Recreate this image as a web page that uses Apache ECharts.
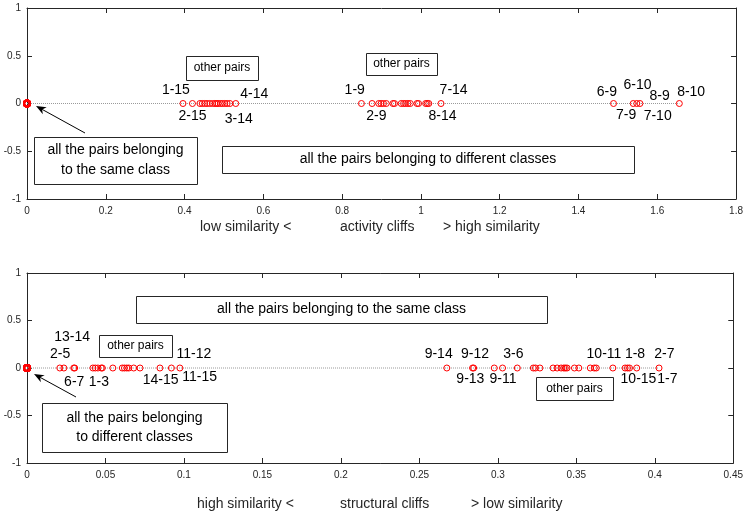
<!DOCTYPE html>
<html><head><meta charset="utf-8">
<script src="https://cdn.jsdelivr.net/npm/echarts@6/dist/echarts.min.js"></script>
<style>html,body{margin:0;padding:0;background:#fff}#c{width:746px;height:514px}</style>
</head><body><div id="c"></div>
<script>
// ---- data ----
const activityZeros = [0,0,0,0,0,0,0,0];
const activityX = [0.396,0.420,0.439,0.445,0.451,0.457,0.464,0.471,0.477,0.481,0.485,0.491,0.496,0.502,0.508,0.515,0.530,
  0.849,0.876,0.893,0.899,0.905,0.912,0.929,0.933,0.950,0.956,0.961,0.967,0.973,0.990,0.994,1.012,1.016,1.020,1.051,
  1.489,1.539,1.548,1.556,1.656];
const activityLabelNames = ['1-15','2-15','3-14','4-14','1-9','7-14','2-9','8-14','6-9','6-10','8-9','8-10','7-9','7-10'];
const activityLabelX = [0.378,0.420,0.5375,0.577,0.832,1.083,0.887,1.055,1.472,1.550,1.606,1.686,1.521,1.601];
const activityLabelY = [0.141,-0.131,-0.162,0.094,0.141,0.141,-0.131,-0.131,0.115,0.188,0.073,0.115,-0.120,-0.131];

const structuralZeros = [0,0,0,0,0,0,0,0];
const structuralX = [0.0209,0.0235,0.0298,0.0304,0.0420,0.0435,0.0452,0.0473,0.0480,0.0547,0.0607,0.0621,0.0636,0.0649,0.0680,0.0720,0.0847,0.0920,0.0974,
  0.2675,0.2839,0.2846,0.2977,0.3030,0.3124,0.3226,0.3240,0.3268,0.3352,0.3378,0.3403,0.3420,0.3430,0.3441,0.3488,0.3516,0.3589,0.3614,0.3627,0.3733,0.3811,0.3826,0.3839,0.3885,0.4027];
const structuralLabelNames = ['13-14','2-5','6-7','1-3','14-15','11-12','11-15','9-14','9-12','3-6','10-11','1-8','2-7','9-13','9-11','10-15','1-7'];
const structuralLabelX = [0.0288,0.0211,0.0301,0.0458,0.0851,0.1063,0.1100,0.2623,0.2855,0.3099,0.3676,0.3874,0.4061,0.2825,0.3033,0.3896,0.4080];
const structuralLabelY = [0.321,0.147,-0.153,-0.153,-0.126,0.142,-0.100,0.147,0.147,0.147,0.147,0.147,0.147,-0.116,-0.116,-0.116,-0.116];

const yTickInterval = 0.5;
const topXMax = 1.8, topXInterval = 0.2;
const botXMax = 0.45, botXInterval = 0.05;

// ---- chart ----
const AX = '#262626';
const chart = echarts.init(document.getElementById('c'), null, {renderer: 'canvas'});
const fontFam = 'Arial, "Liberation Sans", sans-serif';

function xAx(grid, max, interval, pos, showLabel) {
  return {type:'value', gridIndex:grid, min:0, max:max, interval:interval, position:pos,
    axisLine:{show:true, onZero:false, lineStyle:{color:AX, width:1}},
    axisTick:{show:true, inside:true, length:5, lineStyle:{color:AX}},
    axisLabel:{show:showLabel, color:AX, fontSize:10, fontFamily:fontFam, margin:7},
    splitLine:{show:false}};
}
function yAx(grid, pos, showLabel) {
  return {type:'value', gridIndex:grid, min:-1, max:1, interval:yTickInterval, position:pos,
    axisLine:{show:true, onZero:false, lineStyle:{color:AX, width:1}},
    axisTick:{show:true, inside:true, length:5, lineStyle:{color:AX}},
    axisLabel:{show:showLabel, color:AX, fontSize:10, fontFamily:fontFam, margin:6},
    splitLine:{show:false}};
}
function pointSeries(xi, yi, xs) {
  return {type:'line', xAxisIndex:xi, yAxisIndex:yi,
    data: xs.map(v => v === 0 ? {value:[v, 0], itemStyle:{borderWidth:2}} : [v, 0]),
    symbol:'circle', symbolSize:6, showAllSymbol:true, silent:true,
    itemStyle:{color:'rgba(255,255,255,0)', borderColor:'#ff0000', borderWidth:1},
    lineStyle:{color:'#9a9a9a', type:'dotted', width:1}, z:3};
}
function labelSeries(xi, yi, names, xs, ys) {
  return {type:'scatter', xAxisIndex:xi, yAxisIndex:yi, symbolSize:1, silent:true,
    itemStyle:{color:'rgba(0,0,0,0)'},
    data: names.map((n,i) => ({name:n, value:[xs[i], ys[i]]})),
    label:{show:true, position:'inside', formatter:'{b}', color:'#000', opacity:1, fontSize:14, fontFamily:fontFam}, z:4};
}
function box(x, y, w, h, text, size, lh) {
  return {type:'group', children:[
    {type:'rect', shape:{x:x+0.5, y:y+0.5, width:w, height:h}, style:{fill:'#fff', stroke:AX, lineWidth:1}, z:10},
    {type:'text', x:x + w/2, y:y + h/2, style:{text:text, font: size + 'px ' + fontFam, fill:'#000',
      align:'center', verticalAlign:'middle', lineHeight:lh || size*1.2}, z:11}
  ]};
}
function arrow(x1, y1, x2, y2) {
  const dx = x2-x1, dy = y2-y1, L = Math.hypot(dx, dy), ux = dx/L, uy = dy/L, nx = -uy, ny = ux;
  const len = 10, hw = 4, back = 7;
  return {type:'group', children:[
    {type:'line', shape:{x1:x1, y1:y1, x2:x2-ux*back, y2:y2-uy*back}, style:{stroke:'#000', lineWidth:1}, z:10},
    {type:'polygon', shape:{points:[[x2,y2],[x2-ux*len+nx*hw, y2-uy*len+ny*hw],[x2-ux*back, y2-uy*back],[x2-ux*len-nx*hw, y2-uy*len-ny*hw]]},
      style:{fill:'#000'}, z:10}
  ]};
}
function axName(x, y, t) {
  return {type:'text', x:x, y:y, style:{text:t, font:'14px ' + fontFam, fill:'#262626', align:'left', verticalAlign:'middle'}};
}

const option = {
  animation:false,
  backgroundColor:'#fff',
  grid:[
    {left:27, top:8, width:710, height:191},
    {left:27, top:273, width:710, height:190}
  ],
  xAxis:[
    xAx(0, topXMax, topXInterval, 'bottom', true),
    xAx(0, topXMax, topXInterval, 'top', false),
    xAx(1, botXMax, botXInterval, 'bottom', true),
    xAx(1, botXMax, botXInterval, 'top', false)
  ],
  yAxis:[
    yAx(0, 'left', true),
    yAx(0, 'right', false),
    yAx(1, 'left', true),
    yAx(1, 'right', false)
  ],
  series:[
    pointSeries(0, 0, activityZeros.concat(activityX)),
    labelSeries(0, 0, activityLabelNames, activityLabelX, activityLabelY),
    pointSeries(2, 2, structuralZeros.concat(structuralX)),
    labelSeries(2, 2, structuralLabelNames, structuralLabelX, structuralLabelY)
  ],
  graphic:[
    box(186, 56, 72, 24, 'other pairs', 12),
    box(366, 53, 71, 22, 'other pairs', 12),
    box(34, 137, 163, 47, 'all the pairs belonging\nto the same class', 14, 20),
    box(222, 146, 412, 27, 'all the pairs belonging to different classes', 14),
    arrow(85, 133, 36, 106),
    box(136, 296, 411, 27, 'all the pairs belonging to the same class', 14),
    box(99, 335, 73, 22, 'other pairs', 12),
    box(536, 377, 77, 23, 'other pairs', 12),
    box(42, 403, 185, 49, 'all the pairs belonging\nto different classes', 14, 19),
    arrow(76, 397, 34, 374),
    axName(200, 227, 'low similarity <'),
    axName(340, 227, 'activity cliffs'),
    axName(443, 227, '> high similarity'),
    axName(197, 504, 'high similarity <'),
    axName(340, 504, 'structural cliffs'),
    axName(471, 504, '> low similarity')
  ]
};
chart.setOption(option);
</script></body></html>
